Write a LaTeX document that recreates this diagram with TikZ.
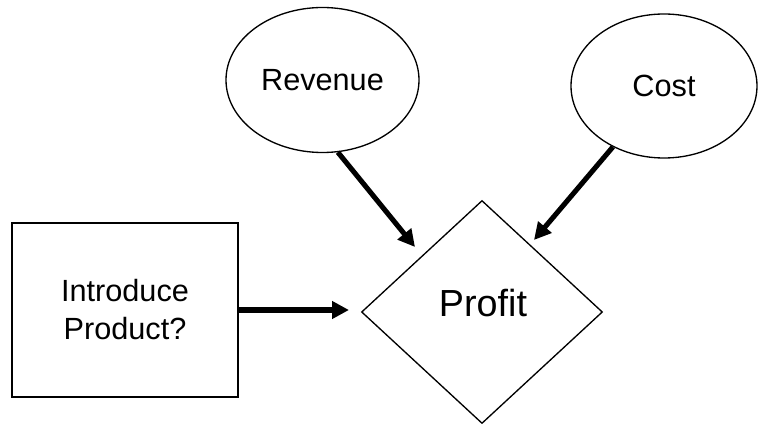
\documentclass[tikz,border=0pt]{standalone}
\usepackage{fontspec}
\setmainfont{Liberation Sans}
\usetikzlibrary{shapes.geometric,arrows.meta}
\begin{document}
\begin{tikzpicture}[x=0.75pt,y=-0.75pt,
  outline/.style={draw, line width=1pt, inner sep=0pt},
  lbl/.style={font=\fontsize{23}{28.5}\selectfont, align=center},
  biglbl/.style={font=\fontsize{28.3}{34}\selectfont},
  arr/.style={line width=3.8pt, -{Triangle[length=12.75pt,width=12.75pt]}}]
\useasboundingbox (0,0) rectangle (758,424);
\node[outline, ellipse, minimum width=144.75pt, minimum height=108.75pt, lbl] (rev) at (322.5,80) {Revenue};
\node[outline, ellipse, minimum width=139.5pt, minimum height=108pt, lbl] (cost) at (664,86) {Cost};
\node[outline, diamond, minimum width=180.75pt, minimum height=167.25pt] (profit) at (482,312) {};
\node[biglbl] (profitlbl) at (483,303.5) {Profit};
\node[outline, line width=1.3pt, rectangle, minimum width=169.5pt, minimum height=130.5pt, lbl] (dec) at (125,310) {Introduce\\Product?};
\coordinate (revtip) at (415,247);
\coordinate (costtip) at (534,240);
\coordinate (dectip) at (349,310);
\draw[arr] (rev.-78) -- (revtip);
\draw[arr] (cost.-130) -- (costtip);
\draw[arr] (dec.east) -- (dectip);
\end{tikzpicture}
\end{document}
